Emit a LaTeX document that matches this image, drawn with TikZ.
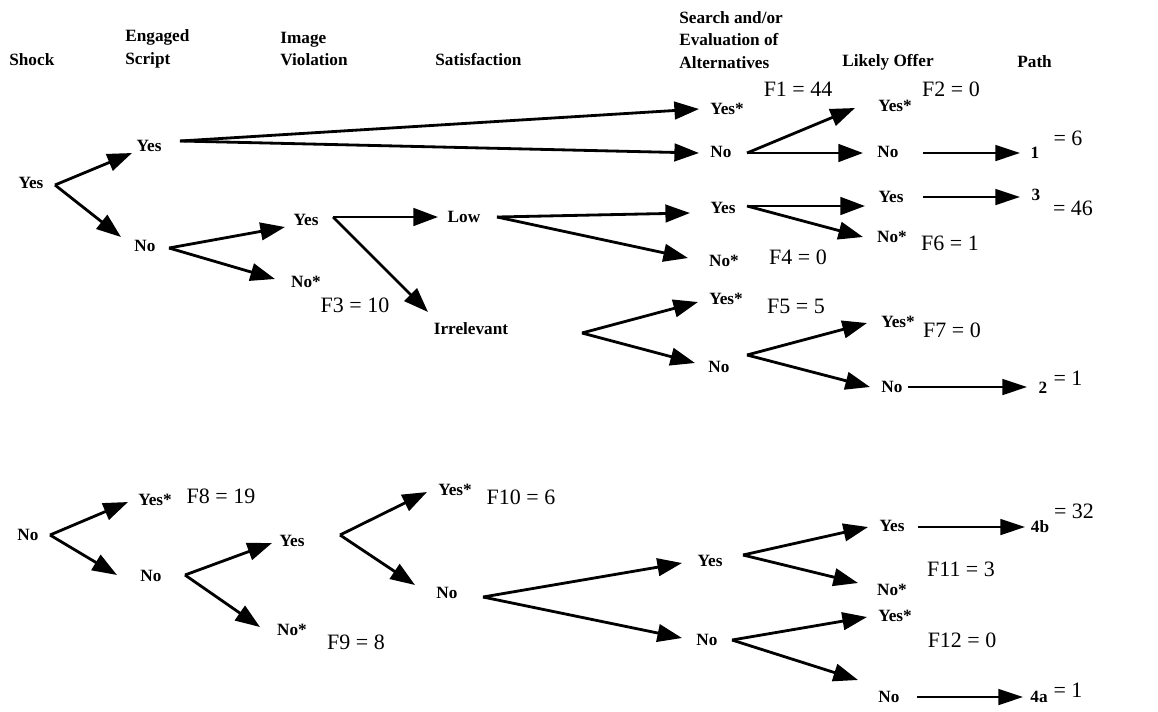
\documentclass[tikz,border=0pt]{standalone}
\usepackage{fontspec}
\setmainfont{Liberation Serif}
\usetikzlibrary{arrows.meta}
\begin{document}
\begin{tikzpicture}[x=0.02cm,y=-0.02cm,
 lab/.style={font=\fontsize{9.8}{11}\selectfont\bfseries, inner sep=0pt},
 hdr/.style={font=\fontsize{9.8}{12.8}\selectfont\bfseries, align=left, anchor=west, inner sep=0pt},
 fl/.style={font=\fontsize{12.5}{14}\selectfont, inner sep=0pt},
 arr/.style={line width=1.6pt, -{Triangle[length=14pt,width=10pt]}},
 parr/.style={line width=1.2pt, -{Triangle[length=14pt,width=9pt]}}]
\useasboundingbox (0,0) rectangle (1158,711);
% headers
\node[hdr] (hShock) at (9,60) {Shock};
\node[hdr] (hES) at (125,49) {Engaged\\Script};
\node[hdr] (hIV) at (280,49) {Image\\Violation};
\node[hdr] (hSat) at (435,60) {Satisfaction};
\node[hdr] (hSE) at (679,40) {Search and/or\\Evaluation of\\Alternatives};
\node[hdr] (hLO) at (842,62) {Likely Offer};
\node[hdr] (hPath) at (1017,62) {Path};
% upper tree
\node[lab] (sY) at (31,183) {Yes};
\node[lab] (eY) at (149,146) {Yes};
\node[lab] (eN) at (145,246) {No};
\node[lab] (sa1) at (727,109) {Yes*};
\node[lab] (sn1) at (721,152) {No};
\node[lab] (lY1) at (895,106) {Yes*};
\node[lab] (lN1) at (888,152) {No};
\node[lab] (p1) at (1035,153) {1};
\node[fl] (e6) at (1068,138) {= 6};
\node[fl] (F1) at (798,89) {F1 = 44};
\node[fl] (F2) at (951,89) {F2 = 0};
\node[lab] (iY) at (306,220) {Yes};
\node[lab] (iN) at (306,282) {No*};
\node[lab] (low) at (464,217) {Low};
\node[lab] (irr) at (471,329) {Irrelevant};
\node[fl] (F3) at (355,305) {F3 = 10};
\node[lab] (sY2) at (723,208) {Yes};
\node[lab] (sN2) at (724,261) {No*};
\node[fl] (F4) at (798,257) {F4 = 0};
\node[lab] (lY2) at (891,197) {Yes};
\node[lab] (lN2) at (892,237) {No*};
\node[fl] (F6) at (950,243) {F6 = 1};
\node[lab] (p3) at (1036,195) {3};
\node[fl] (e46) at (1073,208) {= 46};
\node[lab] (sY3) at (726,299) {Yes*};
\node[lab] (sN3) at (719,367) {No};
\node[fl] (F5) at (796,306) {F5 = 5};
\node[lab] (lY3) at (898,322) {Yes*};
\node[lab] (lN3) at (892,387) {No};
\node[fl] (F7) at (952,330) {F7 = 0};
\node[lab] (p2) at (1043,388) {2};
\node[fl] (e1a) at (1068,378) {= 1};
% lower tree
\node[lab] (sN) at (28,535) {No};
\node[lab] (eY2) at (155,500) {Yes*};
\node[lab] (eN2) at (151,576) {No};
\node[fl] (F8) at (221,496) {F8 = 19};
\node[lab] (iY2) at (292,541) {Yes};
\node[lab] (iN2) at (292,630) {No*};
\node[fl] (F9) at (356,642) {F9 = 8};
\node[lab] (tY) at (455,490) {Yes*};
\node[lab] (tN) at (447,593) {No};
\node[fl] (F10) at (521,497) {F10 = 6};
\node[lab] (sY4) at (710,561) {Yes};
\node[lab] (sN4) at (707,640) {No};
\node[lab] (lY4) at (892,526) {Yes};
\node[lab] (lN4) at (892,590) {No*};
\node[fl] (F11) at (961,569) {F11 = 3};
\node[lab] (lY5) at (895,616) {Yes*};
\node[lab] (lN5) at (889,697) {No};
\node[fl] (F12) at (962,640) {F12 = 0};
\node[lab] (p4b) at (1040,527) {4b};
\node[fl] (e32) at (1074,511) {= 32};
\node[lab] (p4a) at (1039,697) {4a};
\node[fl] (e1b) at (1068,690) {= 1};
% upper connectors
\draw[arr] ([shift={(55-31,185-183)}]sY.center) -- ([shift={(132-149,153-146)}]eY.center);
\draw[arr] ([shift={(55-31,185-183)}]sY.center) -- ([shift={(121-145,237-246)}]eN.center);
\draw[arr] ([shift={(180-149,141-146)}]eY.center) -- ([shift={(699-727,109-109)}]sa1.center);
\draw[arr] ([shift={(180-149,141-146)}]eY.center) -- ([shift={(699-721,153-152)}]sn1.center);
\draw[arr] ([shift={(747-721,153-152)}]sn1.center) -- ([shift={(855-895,108-106)}]lY1.center);
\draw[arr] ([shift={(747-721,153-152)}]sn1.center) -- ([shift={(863-888,153-152)}]lN1.center);
\draw[parr] ([shift={(923-888,153-152)}]lN1.center) -- ([shift={(1020-1035,153-153)}]p1.center);
\draw[arr] ([shift={(169-145,248-246)}]eN.center) -- ([shift={(285-306,227-220)}]iY.center);
\draw[arr] ([shift={(169-145,248-246)}]eN.center) -- ([shift={(275-306,279-282)}]iN.center);
\draw[arr] ([shift={(333-306,217-220)}]iY.center) -- ([shift={(438-464,217-217)}]low.center);
\draw[arr] ([shift={(333-306,217-220)}]iY.center) -- ([shift={(428-471,312-329)}]irr.center);
\draw[arr] ([shift={(497-464,217-217)}]low.center) -- ([shift={(690-723,213-208)}]sY2.center);
\draw[arr] ([shift={(497-464,217-217)}]low.center) -- ([shift={(688-724,258-261)}]sN2.center);
\draw[arr] ([shift={(747-723,206-208)}]sY2.center) -- ([shift={(865-891,206-197)}]lY2.center);
\draw[arr] ([shift={(747-723,206-208)}]sY2.center) -- ([shift={(863-892,237-237)}]lN2.center);
\draw[parr] ([shift={(923-891,197-197)}]lY2.center) -- ([shift={(1020-1036,197-195)}]p3.center);
\draw[arr] ([shift={(582-471,333-329)}]irr.center) -- ([shift={(698-726,302-299)}]sY3.center);
\draw[arr] ([shift={(582-471,333-329)}]irr.center) -- ([shift={(695-719,363-367)}]sN3.center);
\draw[arr] ([shift={(747-719,355-367)}]sN3.center) -- ([shift={(867-898,323-322)}]lY3.center);
\draw[arr] ([shift={(747-719,355-367)}]sN3.center) -- ([shift={(870-892,387-387)}]lN3.center);
\draw[parr] ([shift={(908-892,387-387)}]lN3.center) -- ([shift={(1027-1043,387-388)}]p2.center);
% lower connectors
\draw[arr] ([shift={(50-28,535-535)}]sN.center) -- ([shift={(128-155,502-500)}]eY2.center);
\draw[arr] ([shift={(50-28,535-535)}]sN.center) -- ([shift={(117-151,575-576)}]eN2.center);
\draw[arr] ([shift={(185-151,575-576)}]eN2.center) -- ([shift={(272-292,543-541)}]iY2.center);
\draw[arr] ([shift={(185-151,575-576)}]eN2.center) -- ([shift={(260-292,627-630)}]iN2.center);
\draw[arr] ([shift={(340-292,535-541)}]iY2.center) -- ([shift={(427-455,492-490)}]tY.center);
\draw[arr] ([shift={(340-292,535-541)}]iY2.center) -- ([shift={(415-447,585-593)}]tN.center);
\draw[arr] ([shift={(483-447,597-593)}]tN.center) -- ([shift={(682-710,563-561)}]sY4.center);
\draw[arr] ([shift={(483-447,597-593)}]tN.center) -- ([shift={(682-707,638-640)}]sN4.center);
\draw[arr] ([shift={(743-710,555-561)}]sY4.center) -- ([shift={(868-892,527-526)}]lY4.center);
\draw[arr] ([shift={(743-710,555-561)}]sY4.center) -- ([shift={(858-892,583-590)}]lN4.center);
\draw[arr] ([shift={(732-707,640-640)}]sN4.center) -- ([shift={(867-895,617-616)}]lY5.center);
\draw[arr] ([shift={(732-707,640-640)}]sN4.center) -- ([shift={(858-889,680-697)}]lN5.center);
\draw[parr] ([shift={(918-892,527-526)}]lY4.center) -- ([shift={(1025-1040,527-527)}]p4b.center);
\draw[parr] ([shift={(917-889,697-697)}]lN5.center) -- ([shift={(1023-1039,697-697)}]p4a.center);
\end{tikzpicture}
\end{document}
